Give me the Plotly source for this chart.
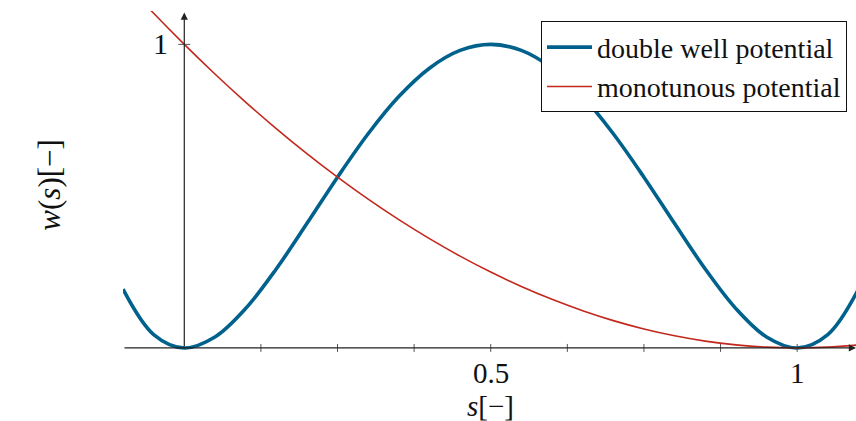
import plotly.graph_objects as go

# Sample points along s
s_values = [-0.1, -0.05, 0.0, 0.05, 0.1, 0.15, 0.2, 0.25, 0.3, 0.35, 0.4, 0.45, 0.5,
            0.55, 0.6, 0.65, 0.7, 0.75, 0.8, 0.85, 0.9, 0.95, 1.0, 1.05, 1.1]

# Double well potential values
w_double = [0.1936, 0.0441, 0.0, 0.0361, 0.1296, 0.2601, 0.4096, 0.5625, 0.7056, 0.8281,
            0.9216, 0.9801, 1.0, 0.9801, 0.9216, 0.8281, 0.7056, 0.5625, 0.4096, 0.2601,
            0.1296, 0.0361, 0.0, 0.0441, 0.1936]

# Monotonous potential values
w_mono = [1.21, 1.1025, 1.0, 0.9025, 0.81, 0.7225, 0.64, 0.5625, 0.49, 0.4225, 0.36,
          0.3025, 0.25, 0.2025, 0.16, 0.1225, 0.09, 0.0625, 0.04, 0.0225, 0.01, 0.0025,
          0.0, 0.0025, 0.01]

series_names = ["double well potential", "monotunous potential"]

x_minor_ticks = [0.125, 0.25, 0.375, 0.5, 0.625, 0.75, 0.875, 1.0]
x_tick_labels = {0.5: "0.5", 1.0: "1"}
y_tick_labels = {1.0: "1"}

BLUE = "#00628c"
RED = "#c2281c"
AXIS = "#555555"
FONT = "Liberation Serif"

W, H = 856, 421
x_range = [-0.1, 1.096]
y_range = [-0.02, 1.11]
px_per_y = 304.0
m_l, m_r = 123, 0
m_b = 421 - (348 + 0.02 * px_per_y)
m_t = 348 - 1.11 * px_per_y
pw = W - m_l - m_r
ph = H - m_t - m_b

fig = go.Figure()
fig.add_trace(go.Scatter(x=s_values, y=w_double, mode="lines", name=series_names[0],
                         line=dict(color=BLUE, width=3.6, shape="spline", smoothing=1.0)))
fig.add_trace(go.Scatter(x=s_values, y=w_mono, mode="lines", name=series_names[1],
                         line=dict(color=RED, width=1.6, shape="spline", smoothing=1.0)))

shapes = []
annotations = []

# Axis lines with arrow heads (axis lines = middle)
annotations.append(dict(x=0, y=1.105, ax=0, ay=0, xref="x", yref="y", axref="x", ayref="y",
                        showarrow=True, arrowhead=2, arrowsize=1.2, arrowwidth=1.2,
                        arrowcolor="#222222", text=""))
annotations.append(dict(x=1.096, y=0, ax=-0.1, ay=0, xref="x", yref="y", axref="x", ayref="y",
                        showarrow=True, arrowhead=2, arrowsize=1.2, arrowwidth=1.2,
                        arrowcolor="#222222", text=""))

# Tick marks crossing the axes
tick_half = 4 / px_per_y
for t in x_minor_ticks:
    shapes.append(dict(type="line", xref="x", yref="y", x0=t, x1=t, y0=-tick_half, y1=tick_half,
                       line=dict(color=AXIS, width=1)))
shapes.append(dict(type="line", xref="x", yref="y", x0=-6 / 613, x1=6 / 613, y0=1.0, y1=1.0,
                   line=dict(color=AXIS, width=1)))

# Tick labels
for v, lab in x_tick_labels.items():
    annotations.append(dict(x=v, y=0, xref="x", yref="y", text=lab, showarrow=False,
                            yshift=-25, font=dict(family=FONT, size=29, color="#111111")))
for v, lab in y_tick_labels.items():
    annotations.append(dict(x=0, y=v, xref="x", yref="y", text=lab, showarrow=False,
                            xanchor="right", xshift=-14, yshift=1,
                            font=dict(family=FONT, size=30, color="#111111")))

# Axis titles
annotations.append(dict(x=0.5, y=0, xref="x", yref="y", text="<i>s</i>[−]", showarrow=False,
                        yshift=-58, font=dict(family=FONT, size=29, color="#111111")))
annotations.append(dict(x=(30 - m_l) / pw, y=(H - m_b - 185) / ph, xref="paper", yref="paper",
                        text="<i>w</i>(<i>s</i>)[−]", showarrow=False, textangle=-90,
                        font=dict(family=FONT, size=31, color="#111111")))

fig.update_layout(
    width=W, height=H,
    margin=dict(l=m_l, r=m_r, t=m_t, b=m_b, pad=0),
    paper_bgcolor="white", plot_bgcolor="white",
    xaxis=dict(range=x_range, showgrid=False, zeroline=False, showline=False,
               showticklabels=False, ticks=""),
    yaxis=dict(range=y_range, showgrid=False, zeroline=False, showline=False,
               showticklabels=False, ticks=""),
    shapes=shapes,
    annotations=annotations,
    showlegend=True,
    legend=dict(x=(847 - m_l) / pw, y=(H - m_b - 21) / ph, xanchor="right", yanchor="top",
                bgcolor="white", bordercolor="#111111", borderwidth=1,
                font=dict(family=FONT, size=28, color="#111111"),
                itemwidth=45, tracegroupgap=0),
)

fig.write_html("out.html")
